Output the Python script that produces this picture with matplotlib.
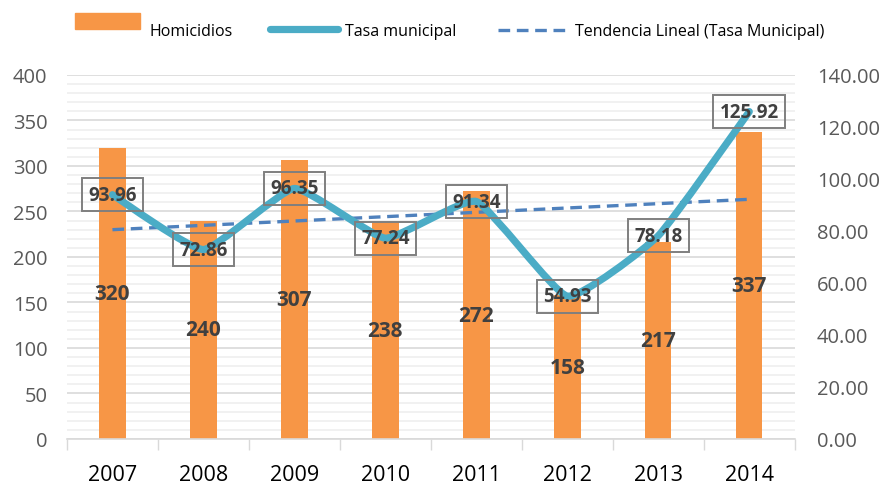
import matplotlib
matplotlib.use('Agg')
import matplotlib.pyplot as plt
import numpy as np
from matplotlib.path import Path
from matplotlib.patches import PathPatch, Rectangle
from matplotlib.lines import Line2D

plt.rcParams['font.family'] = ['Open Sans', 'DejaVu Sans']

years = ['2007', '2008', '2009', '2010', '2011', '2012', '2013', '2014']
homicidios = [320, 240, 307, 238, 272, 158, 217, 337]
tasa = [93.96, 72.86, 96.35, 77.24, 91.34, 54.93, 78.18, 125.92]

BAR = '#F79646'
LINE = '#4BACC6'
TREND = '#4F81BD'
LABEL = '#404040'
TICK = '#595959'


def smooth_path(x, y, t=1 / 14):
    # excel-like smoothed line: cubic bezier, mild catmull-rom tangents
    x = np.asarray(x, float)
    y = np.asarray(y, float)
    verts = [(x[0], y[0])]
    codes = [Path.MOVETO]
    n = len(x)
    for i in range(n - 1):
        x0, y0 = (x[i - 1], y[i - 1]) if i > 0 else (x[i], y[i])
        x3, y3 = (x[i + 2], y[i + 2]) if i + 2 < n else (x[i + 1], y[i + 1])
        c1 = (x[i] + (x[i + 1] - x0) * t, y[i] + (y[i + 1] - y0) * t)
        c2 = (x[i + 1] - (x3 - x[i]) * t, y[i + 1] - (y3 - y[i]) * t)
        verts += [c1, c2, (x[i + 1], y[i + 1])]
        codes += [Path.CURVE4] * 3
    return Path(verts, codes)


def main():
    fig = plt.figure(figsize=(8.87, 4.85), dpi=100)
    ax = fig.add_axes([0.0755, 0.0928, 0.8205, 0.7505])
    ax2 = ax.twinx()

    xs = np.arange(len(years))
    ax.bar(xs, homicidios, width=0.29, color=BAR, zorder=2)
    for x, v in zip(xs, homicidios):
        ax.text(x, v / 2, str(v), ha='center', va='center', fontsize=15,
                fontweight='bold', color=LABEL, zorder=5)

    ax.set_xlim(-0.5, len(years) - 0.5)
    ax.set_ylim(0, 400)
    ax.set_yticks(np.arange(0, 401, 50))
    ax.set_yticks(np.arange(0, 401, 10), minor=True)
    ax.grid(axis='y', which='major', color='#d9d9d9', lw=1.2, zorder=0)
    ax.grid(axis='y', which='minor', color='#efefef', lw=1.2, zorder=0)
    ax.set_axisbelow(True)

    ax.set_xticks(xs)
    ax.set_xticklabels(years, fontsize=15.5, color='black')
    ax.set_xticks(np.arange(-0.5, len(years), 1), minor=True)
    ax.tick_params(axis='x', which='major', length=0, pad=18)
    ax.tick_params(axis='x', which='minor', length=8, color='#d9d9d9', width=1)
    ax.tick_params(axis='y', which='both', length=0, labelsize=14.5,
                   labelcolor=TICK, pad=14)
    for s in ['top', 'left', 'right']:
        ax.spines[s].set_visible(False)
        ax2.spines[s].set_visible(False)
    ax.spines['bottom'].set_color('#d9d9d9')
    ax.spines['bottom'].set_linewidth(1.2)
    ax2.spines['bottom'].set_visible(False)

    ax2.set_ylim(0, 140)
    ax2.set_yticks(np.arange(0, 141, 20))
    ax2.set_yticklabels(['%.2f' % v for v in np.arange(0, 141, 20)])
    ax2.tick_params(axis='y', length=0, labelsize=14.5, labelcolor=TICK, pad=16)

    # trend line
    k, b = np.polyfit(xs, tasa, 1)
    ax2.plot(xs[[0, -1]], k * xs[[0, -1]] + b, color=TREND, lw=2.4,
             ls=(0, (3.5, 2)), zorder=3)

    # smoothed rate line
    ax2.add_patch(PathPatch(smooth_path(xs, tasa), facecolor='none',
                            edgecolor=LINE, lw=5.2, capstyle='round',
                            joinstyle='round', zorder=4))
    for x, v in zip(xs, tasa):
        ax2.text(x, v, '%.2f' % v, ha='center', va='center', fontsize=13.5,
                 fontweight='bold', color=LABEL, zorder=6,
                 bbox=dict(boxstyle='square,pad=0.35', fc='none',
                           ec='#7f7f7f', lw=1.4))

    # legend drawn along the top
    fig.patches.append(Rectangle((75 / 887, 1 - 30 / 485), 65 / 887, 16 / 485,
                                 transform=fig.transFigure, color=BAR))
    fig.text(150 / 887, 1 - 32 / 485, 'Homicidios', fontsize=11.5,
             va='center', color='black')
    fig.lines.append(Line2D([270 / 887, 338 / 887], [1 - 30 / 485] * 2,
                            transform=fig.transFigure, color=LINE, lw=5.2,
                            solid_capstyle='round'))
    fig.text(345 / 887, 1 - 32 / 485, 'Tasa municipal', fontsize=11.5,
             va='center', color='black')
    fig.lines.append(Line2D([498 / 887, 567 / 887], [1 - 31 / 485] * 2,
                            transform=fig.transFigure, color=TREND, lw=2.4,
                            ls=(0, (3.5, 2))))
    fig.text(575 / 887, 1 - 32 / 485, 'Tendencia Lineal (Tasa Municipal)',
             fontsize=11.5, va='center', color='black')

    plt.savefig('out.png', dpi=100)


if __name__ == '__main__':
    main()
